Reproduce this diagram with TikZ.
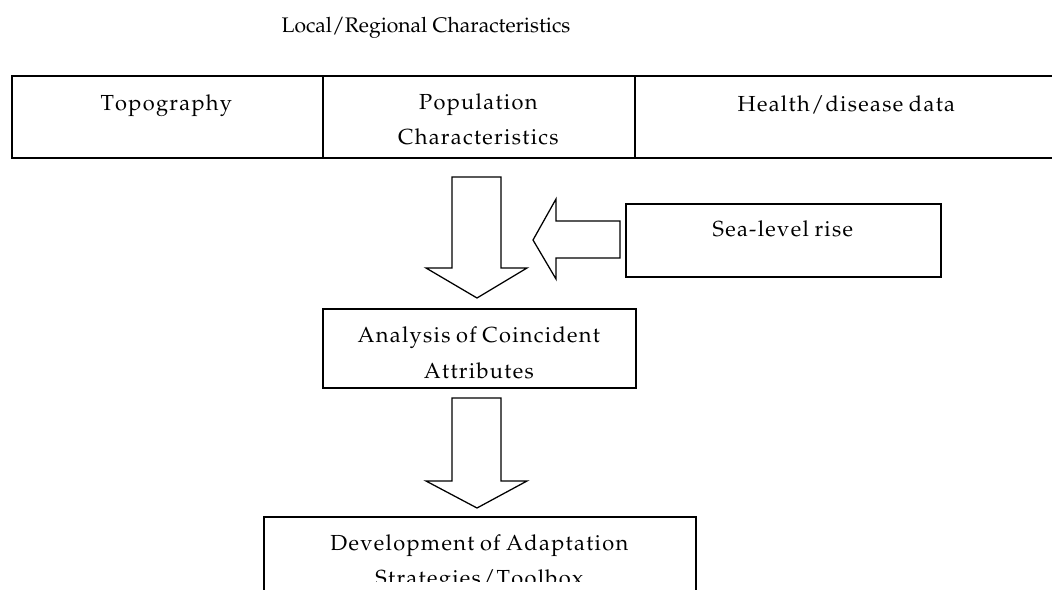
\documentclass[tikz,border=0pt]{standalone}
\usepackage[T1]{fontenc}
\usepackage{mathpazo}
\usepackage{tikz}
\usetikzlibrary{positioning}

% loose letter spacing of the cell texts
\def\qend{qend}
\def\qstop{qstop}
\def\spaced#1{\spacedword#1 \qstop}
\def\spacedword#1 #2\qstop{\spacedletter#1\qend
  \if\relax\detokenize{#2}\relax\else\hskip0.2em\spacedword#2\qstop\fi}
\def\spacedletter#1{\ifx#1\qend\else#1\kern0.06em\expandafter\spacedletter\fi}

\begin{document}
\begin{tikzpicture}[x=0.025cm, y=-0.025cm,
    txt/.style={font=\fontsize{15.5}{25}\selectfont, align=center, inner sep=0pt},
    box/.style={txt, draw, line width=1.1pt},
    blockarr/.style={draw, line width=0.9pt, fill=white, line join=miter}]
  \useasboundingbox (0,0) rectangle (1052,590);
  \clip (0,0) rectangle (1052,590);
  %title
  \node[txt, font=\fontsize{15}{25}\selectfont, anchor=base] (title) at (426,33)
    {Local/Regional Characteristics};
  %table
  \draw[line width=1.3pt] (1060,76) -- (12,76) -- (12,158) -- (1060,158);
  \draw[line width=1.1pt] (323,76) -- (323,158) (635,76) -- (635,158);
  \node[txt, anchor=base] (topo) at (167,111) {\spaced{Topography}};
  \node[txt, anchor=base] (popul) at (479,145) {\spaced{Population}\\\spaced{Characteristics}};
  \node[txt, anchor=base] (health) at (847,112) {\spaced{Health/disease data}};
  %boxes
  \node[box, minimum width=7.875cm, minimum height=1.825cm,
    text height=0.4cm, text depth=0.575cm] (sea) at (783.5,240.5) {\spaced{Sea-level rise}};
  \node[box, minimum width=7.825cm, minimum height=1.975cm,
    text height=1.675cm, text depth=0.2cm] (analysis) at (479.5,348.5)
    {\spaced{Analysis of Coincident}\\\spaced{Attributes}};
  \node[box, anchor=north, minimum width=10.8cm,
    text height=1.725cm, text depth=0.5cm] (devel) at (480,516)
    {\spaced{Development of Adaptation}\\\spaced{Strategies/Toolbox}};
  % page edge cuts the last line
  \fill[white] (266,582) rectangle (694,592);
  %block arrows
  \foreach \t/\b/\p in {177/268/298, 398/481/508}
    \draw[blockarr] (452,\t) -- (501,\t) -- (501,\b) -- (527,\b)
      -- (477,\p) -- (426,\b) -- (452,\b) -- cycle;
  \draw[blockarr] (620,221) -- (620,258) -- (556,258) -- (556,279)
    -- (533,240) -- (556,199) -- (556,221) -- cycle;
\end{tikzpicture}
\end{document}
